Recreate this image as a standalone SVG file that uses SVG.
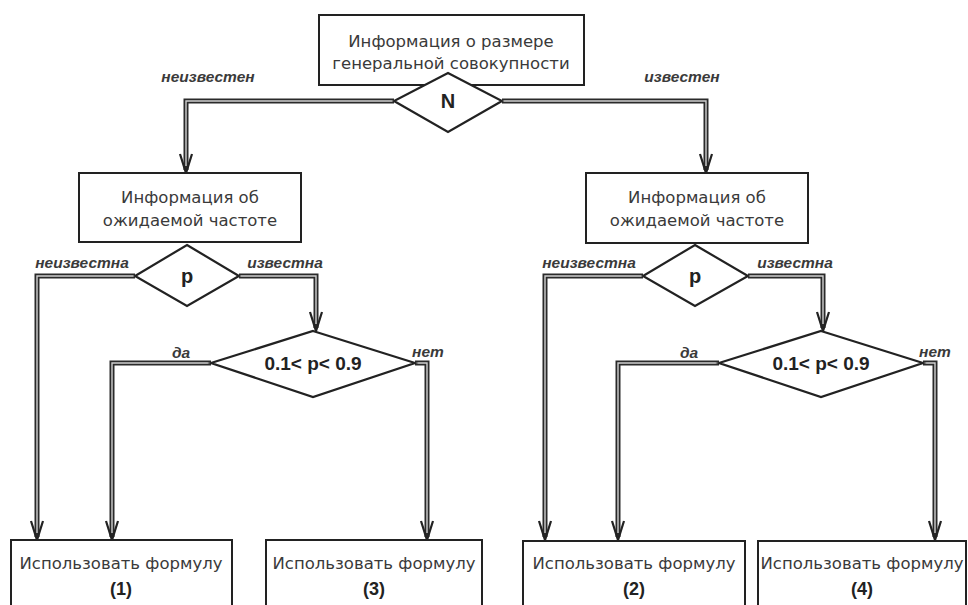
<svg xmlns="http://www.w3.org/2000/svg" xmlns:xlink="http://www.w3.org/1999/xlink" width="968" height="605" viewBox="0 0 968 605">
<style>
.box{fill:#fff;stroke:#222;stroke-width:2}
.dia{fill:#fff;stroke:#222;stroke-width:2.2}
.t{font-family:"DejaVu Sans","Liberation Sans",sans-serif;font-size:16.5px;fill:#3a3a3a;text-anchor:middle}
.b{font-family:"Liberation Sans","DejaVu Sans",sans-serif;font-weight:bold;fill:#222;text-anchor:middle}
.lab{font-family:"Liberation Sans","DejaVu Sans",sans-serif;font-style:italic;font-weight:bold;font-size:15.5px;fill:#3a3a3a;text-anchor:middle}
.co{fill:none;stroke:#2a2a2a;stroke-width:5;stroke-linejoin:miter}
.ci{fill:none;stroke:#d0d0d0;stroke-width:1.4;stroke-linejoin:miter}
.ah{fill:none;stroke:#222;stroke-width:2.2;stroke-linejoin:miter}
</style>
<defs>
<path id="ah" class="ah" d="M-6,-19 L0,0 L6,-19"/>
</defs>
<rect width="968" height="605" fill="#fff"/>
<g id="connectors">
<path class="co" d="M394,101 H186 V170"/>
<path class="co" d="M502,101 H706 V170"/>
<path class="co" d="M135,276 H37 V537"/>
<path class="co" d="M239,276 H316 V328"/>
<path class="co" d="M211,363 H112 V537"/>
<path class="co" d="M415,363 H427 V537"/>
<path class="co" d="M643,276 H545 V537"/>
<path class="co" d="M748,276 H823 V328"/>
<path class="co" d="M719,363 H618 V537"/>
<path class="co" d="M923,363 H935 V537"/>
<path class="ci" d="M394,101 H186 V166"/>
<path class="ci" d="M502,101 H706 V166"/>
<path class="ci" d="M135,276 H37 V533"/>
<path class="ci" d="M239,276 H316 V324"/>
<path class="ci" d="M211,363 H112 V533"/>
<path class="ci" d="M415,363 H427 V533"/>
<path class="ci" d="M643,276 H545 V533"/>
<path class="ci" d="M748,276 H823 V324"/>
<path class="ci" d="M719,363 H618 V533"/>
<path class="ci" d="M923,363 H935 V533"/>
<use xlink:href="#ah" x="186" y="173"/>
<use xlink:href="#ah" x="706" y="173"/>
<use xlink:href="#ah" x="37" y="540"/>
<use xlink:href="#ah" x="316" y="331"/>
<use xlink:href="#ah" x="112" y="540"/>
<use xlink:href="#ah" x="427" y="540"/>
<use xlink:href="#ah" x="545" y="540"/>
<use xlink:href="#ah" x="823" y="331"/>
<use xlink:href="#ah" x="618" y="540"/>
<use xlink:href="#ah" x="935" y="540"/>
<text class="lab" x="208" y="82">неизвестен</text>
<text class="lab" x="682" y="82">известен</text>
<text class="lab" x="82" y="268">неизвестна</text>
<text class="lab" x="285" y="268">известна</text>
<text class="lab" x="181" y="358">да</text>
<text class="lab" x="428" y="357">нет</text>
<text class="lab" x="589" y="268">неизвестна</text>
<text class="lab" x="795" y="268">известна</text>
<text class="lab" x="689" y="358">да</text>
<text class="lab" x="935" y="357">нет</text>
</g>
<g id="top">
<rect class="box" x="319" y="15" width="265" height="70"/>
<text class="t" x="451" y="47">Информация о размере</text>
<text class="t" x="451" y="69">генеральной совокупности</text>
</g>
<g id="N">
<polygon class="dia" points="448,73 502,101 448,132 394,101"/>
<text class="b" x="448" y="108" font-size="20">N</text>
</g>
<g id="infoL">
<rect class="box" x="79" y="173" width="222" height="69"/>
<text class="t" x="190" y="203">Информация об</text>
<text class="t" x="190" y="226">ожидаемой частоте</text>
</g>
<g id="pL">
<polygon class="dia" points="187,245 239,276 187,306 135,276"/>
<text class="b" x="187" y="283" font-size="20">p</text>
</g>
<g id="condL">
<polygon class="dia" points="313,331 415,363 313,397 211,363"/>
<text class="b" x="313" y="370" font-size="19">0.1&lt; p&lt; 0.9</text>
</g>
<g id="infoR">
<rect class="box" x="586" y="173" width="222" height="70"/>
<text class="t" x="697" y="203">Информация об</text>
<text class="t" x="697" y="226">ожидаемой частоте</text>
</g>
<g id="pR">
<polygon class="dia" points="695,245 748,276 695,306 643,276"/>
<text class="b" x="695" y="283" font-size="20">p</text>
</g>
<g id="condR">
<polygon class="dia" points="821,331 923,363 821,397 719,363"/>
<text class="b" x="821" y="370" font-size="19">0.1&lt; p&lt; 0.9</text>
</g>
<g id="f1">
<rect class="box" x="11" y="540" width="221" height="75"/>
<text class="t" x="121" y="569">Использовать формулу</text>
<text class="b" x="121" y="595" font-size="18">(1)</text>
</g>
<g id="f3">
<rect class="box" x="266" y="540" width="216" height="75"/>
<text class="t" x="374" y="569">Использовать формулу</text>
<text class="b" x="374" y="595" font-size="18">(3)</text>
</g>
<g id="f2">
<rect class="box" x="523" y="541" width="222" height="75"/>
<text class="t" x="634" y="569">Использовать формулу</text>
<text class="b" x="634" y="595" font-size="18">(2)</text>
</g>
<g id="f4">
<rect class="box" x="758" y="541" width="208" height="75"/>
<text class="t" x="862" y="569">Использовать формулу</text>
<text class="b" x="862" y="595" font-size="18">(4)</text>
</g>
</svg>
